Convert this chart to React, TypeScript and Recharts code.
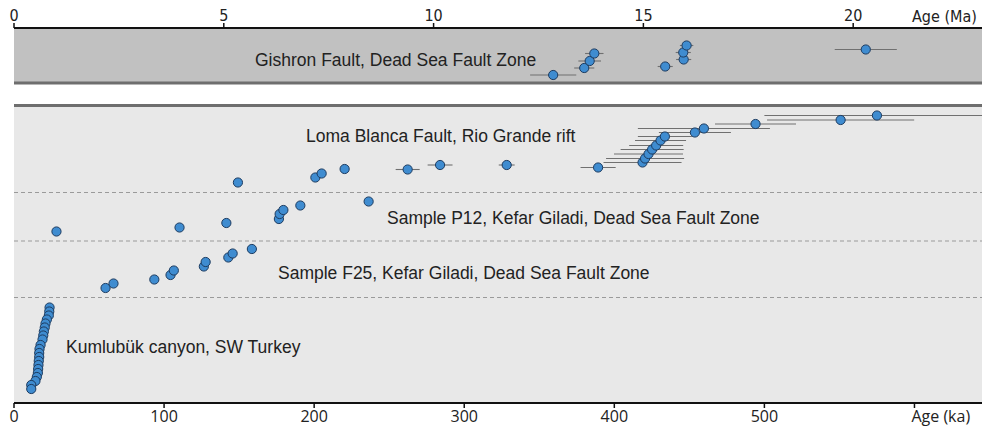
import React from "react";
import {
  ScatterChart,
  Scatter,
  XAxis,
  YAxis,
  ErrorBar,
  ReferenceArea,
  ReferenceLine,
} from "recharts";

// x in Ma (top axis), err = half-width, y = stacking position (0..75)
const gishronMa = [12.85, 13.59, 13.72, 13.83, 15.52, 15.96, 15.95, 16.03, 20.3];
const gishronErr = [0.55, 0.24, 0.27, 0.22, 0.18, 0.18, 0.18, 0.16, 0.74];
const gishronY = [65.6, 67.0, 68.4, 69.9, 67.3, 68.7, 70.1, 71.5, 70.7];

// x in ka (bottom axis)
const lomaKa = [149.2, 200.8, 205, 220.3, 262.3, 283.9, 328.3, 389.2, 418.8, 420.5, 422.8, 425.2, 427.9, 430.8, 433.7, 453.7, 459.7, 494.1, 550.8, 575];
const lomaErr = [0, 0, 0, 0, 8, 8.3, 5.3, 11.7, 26, 26, 23, 21, 18, 17, 18, 24, 44, 27, 49, 75];
const lomaY = [44.1, 45.1, 45.9, 46.8, 46.7, 47.6, 47.6, 47.1, 48.1, 48.9, 49.8, 50.7, 51.5, 52.5, 53.3, 54.1, 54.9, 55.8, 56.6, 57.5];

const p12Ka = [28.3, 110.3, 141.5, 176.5, 177, 179.5, 190.8, 236.3];
const p12Y = [34.3, 35.1, 36.0, 36.8, 37.8, 38.6, 39.5, 40.3];

const f25Ka = [61, 66.3, 93.5, 104.3, 106.5, 126.5, 127.7, 142.8, 145.7, 158.5];
const f25Y = [23.0, 23.9, 24.7, 25.6, 26.5, 27.3, 28.2, 29.1, 29.9, 30.8];

const kumluKa = [23.7, 23.5, 23.2, 21.9, 21.0, 20.5, 19.9, 19.5, 19.0, 17.7, 17.0, 16.8, 16.8, 16.5, 16.3, 16.1, 15.9, 15.2, 14.3, 11.5, 11.5];
const kumluY = [19.1, 18.3, 17.5, 16.7, 15.9, 15.1, 14.3, 13.5, 12.7, 11.6, 10.8, 10.0, 9.2, 8.4, 7.6, 6.8, 6.0, 5.2, 4.4, 3.6, 2.8];

const maTicks = [0, 5, 10, 15, 20];
const kaTicks = [0, 100, 200, 300, 400, 500, 600];

// panel boundaries on the stacking scale
const topBand = [64, 75];
const lowerBand = [0, 59.5];
const dividers = [42.1, 32.4, 21.1];

const zip = (xs: number[], ys: number[], es?: number[]) =>
  xs.map((x, i) => ({ x, y: ys[i], err: es ? es[i] : 0 }));

const FILL = "#3f8cd0";
const EDGE = "#1c3b60";
const NARROW = "'Liberation Sans Narrow', 'DejaVu Sans Condensed', sans-serif";

const dot = (p: any) => (
  <circle cx={p.cx} cy={p.cy} r={4.6} fill={FILL} stroke={EDGE} strokeWidth={1} />
);

function KaTick({ x, y, payload }: any) {
  const last = payload.value === 600;
  return (
    <text
      x={last ? x - 3 : x}
      y={y}
      dy={13}
      textAnchor={last ? "start" : "middle"}
      fontFamily="'Open Sans', sans-serif"
      fontSize={16}
      fill="#222"
    >
      {last ? "Age (ka)" : payload.value}
    </text>
  );
}

const label: React.CSSProperties = {
  position: "absolute",
  fontFamily: "'Liberation Sans', Arial, sans-serif",
  fontSize: 17.5,
  color: "#222",
  whiteSpace: "nowrap",
  lineHeight: "20px",
};

export default function App() {
  return (
    <div style={{ position: "relative", width: 982, height: 427, background: "#fff" }}>
      <style>{`body{margin:0}`}</style>
      <ScatterChart width={982} height={427} margin={{ top: 0, right: 0, bottom: 0, left: 14 }}>
        <XAxis
          xAxisId="ma"
          orientation="top"
          type="number"
          dataKey="x"
          domain={[0, 23.07]}
          allowDataOverflow
          ticks={maTicks}
          height={28}
          axisLine={{ stroke: "#111", strokeWidth: 2 }}
          tickLine={{ stroke: "#111", strokeWidth: 1.5 }}
          tickSize={5}
          tickMargin={2}
          tick={{ fontSize: 16, fill: "#222", fontFamily: NARROW }}
        />
        <XAxis
          xAxisId="ka"
          orientation="bottom"
          type="number"
          dataKey="x"
          domain={[0, 645]}
          allowDataOverflow
          ticks={kaTicks}
          height={24}
          axisLine={{ stroke: "#111", strokeWidth: 2 }}
          tickLine={{ stroke: "#111", strokeWidth: 1.5 }}
          tickSize={5}
          tickMargin={1}
          tick={<KaTick />}
        />
        <YAxis yAxisId="y" type="number" dataKey="y" domain={[0, 75]} allowDataOverflow hide />

        <ReferenceArea xAxisId="ka" yAxisId="y" y1={topBand[0]} y2={topBand[1]} fill="#c1c1c1" fillOpacity={1} stroke="none" />
        <ReferenceArea xAxisId="ka" yAxisId="y" y1={lowerBand[0]} y2={lowerBand[1]} fill="#e8e8e8" fillOpacity={1} stroke="none" />
        <ReferenceLine xAxisId="ka" yAxisId="y" y={topBand[0]} stroke="#6e6e6e" strokeWidth={3} />
        <ReferenceLine xAxisId="ka" yAxisId="y" y={lowerBand[1]} stroke="#6e6e6e" strokeWidth={3} />
        {dividers.map((d) => (
          <ReferenceLine key={d} xAxisId="ka" yAxisId="y" y={d} stroke="#9a9a9a" strokeDasharray="4 3" strokeWidth={1} />
        ))}

        <Scatter xAxisId="ma" yAxisId="y" data={zip(gishronMa, gishronY, gishronErr)} shape={dot} isAnimationActive={false}>
          <ErrorBar dataKey="err" direction="x" width={0} stroke="#707070" strokeWidth={1.1} />
        </Scatter>
        <Scatter xAxisId="ka" yAxisId="y" data={zip(lomaKa, lomaY, lomaErr)} shape={dot} isAnimationActive={false}>
          <ErrorBar dataKey="err" direction="x" width={0} stroke="#707070" strokeWidth={1.1} />
        </Scatter>
        <Scatter xAxisId="ka" yAxisId="y" data={zip(p12Ka, p12Y)} shape={dot} isAnimationActive={false} />
        <Scatter xAxisId="ka" yAxisId="y" data={zip(f25Ka, f25Y)} shape={dot} isAnimationActive={false} />
        <Scatter xAxisId="ka" yAxisId="y" data={zip(kumluKa, kumluY)} shape={dot} isAnimationActive={false} />
      </ScatterChart>

      <div style={{ ...label, left: 912, top: 7, fontSize: 16, fontFamily: NARROW }}>Age (Ma)</div>
      <div style={{ ...label, left: 255, top: 50 }}>Gishron Fault, Dead Sea Fault Zone</div>
      <div style={{ ...label, left: 306, top: 126 }}>Loma Blanca Fault, Rio Grande rift</div>
      <div style={{ ...label, left: 387, top: 208 }}>Sample P12, Kefar Giladi, Dead Sea Fault Zone</div>
      <div style={{ ...label, left: 278, top: 263 }}>Sample F25, Kefar Giladi, Dead Sea Fault Zone</div>
      <div style={{ ...label, left: 66, top: 337 }}>Kumlubük canyon, SW Turkey</div>
    </div>
  );
}
